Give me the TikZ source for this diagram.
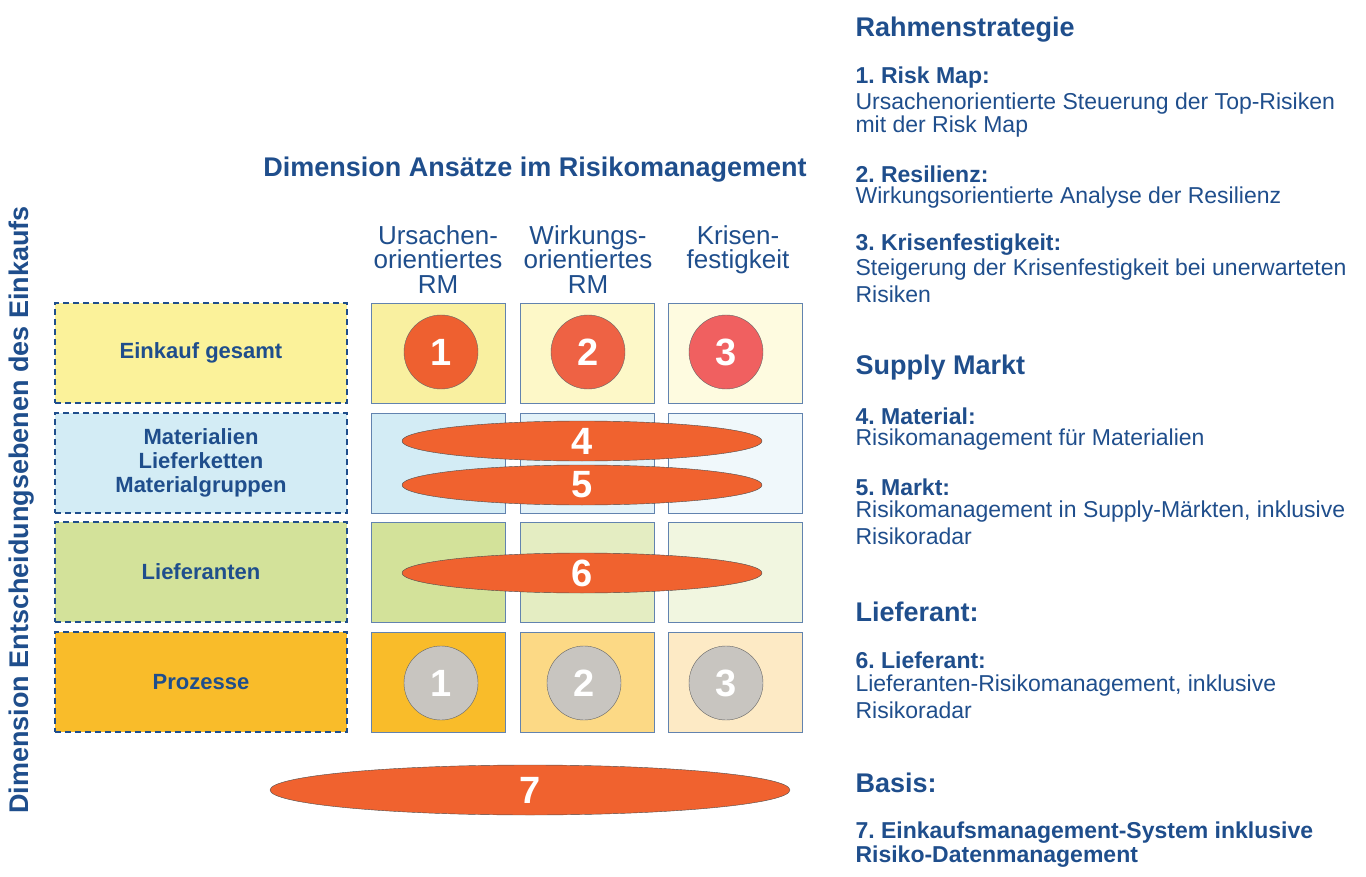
\documentclass[tikz,border=0pt]{standalone}
\usepackage{fontspec}
\setmainfont{Liberation Sans}
\usetikzlibrary{positioning}
\definecolor{dblue}{HTML}{1F4E8C}
\definecolor{hot}{HTML}{F0622F}
\begin{document}
\begin{tikzpicture}[x=1pt,y=-1pt]

\tikzset{level/.style = {draw=dblue, dash pattern=on 6pt off 4pt, line width=1.4pt, minimum width=292pt, minimum height=100pt, text=dblue, font=\fontsize{22}{24}\selectfont\bfseries, align=center}}
\tikzset{cell/.style = {draw=dblue!70, minimum width=134pt, minimum height=100pt}}
\tikzset{num/.style = {shape=circle, draw=black!60, minimum size=74pt, text=white, font=\fontsize{38}{38}\selectfont\bfseries}}
\tikzset{big/.style = {text=white, font=\fontsize{38}{38}\selectfont\bfseries}}
\tikzset{head/.style = {anchor=west, text=dblue, font=\fontsize{27}{29}\selectfont\bfseries}}
\tikzset{item/.style = {anchor=west, text=dblue, font=\fontsize{23}{25}\selectfont\bfseries}}
\tikzset{body/.style = {anchor=west, text=dblue, font=\fontsize{23}{25}\selectfont}}
\tikzset{col/.style = {anchor=north, text=dblue, align=center, font=\fontsize{26}{24.5}\selectfont}}

\useasboundingbox (0,0) rectangle (1366,877);

%levels
\node[level, fill={rgb,255:red,251;green,242;blue,154}] (lev1) at (201,353) {Einkauf gesamt};
\node[level, fill={rgb,255:red,211;green,236;blue,245}] (lev2) at (201,463) {Materialien\\Lieferketten\\Materialgruppen};
\node[level, fill={rgb,255:red,211;green,226;blue,154}] (lev3) at (201,572) {Lieferanten};
\node[level, fill={rgb,255:red,249;green,188;blue,42}] (lev4) at (201,682) {Prozesse};

%cells
\node[cell, fill={rgb,255:red,249;green,240;blue,160}] (c11) at (438,353) {};
\node[cell, fill={rgb,255:red,253;green,248;blue,200}] (c12) at (587,353) {};
\node[cell, fill={rgb,255:red,254;green,251;blue,224}] (c13) at (735,353) {};
\node[cell, fill={rgb,255:red,211;green,236;blue,245}] (c21) at (438,463) {};
\node[cell, fill={rgb,255:red,227;green,242;blue,248}] (c22) at (587,463) {};
\node[cell, fill={rgb,255:red,240;green,248;blue,251}] (c23) at (735,463) {};
\node[cell, fill={rgb,255:red,211;green,226;blue,154}] (c31) at (438,572) {};
\node[cell, fill={rgb,255:red,228;green,237;blue,194}] (c32) at (587,572) {};
\node[cell, fill={rgb,255:red,241;green,246;blue,224}] (c33) at (735,572) {};
\node[cell, fill={rgb,255:red,249;green,188;blue,42}] (c41) at (438,682) {};
\node[cell, fill={rgb,255:red,252;green,217;blue,133}] (c42) at (587,682) {};
\node[cell, fill={rgb,255:red,253;green,234;blue,197}] (c43) at (735,682) {};

%circles
\node[num, fill={rgb,255:red,238;green,96;blue,48}] (n1) at (441,352) {1};
\node[num, fill={rgb,255:red,238;green,98;blue,68}] (n2) at (588,352) {2};
\node[num, fill={rgb,255:red,240;green,96;blue,96}] (n3) at (726,352) {3};
\node[num, fill={rgb,255:red,200;green,197;blue,192}] (p1) at (441,683) {1};
\node[num, fill={rgb,255:red,200;green,197;blue,192}] (p2) at (584,683) {2};
\node[num, fill={rgb,255:red,200;green,197;blue,192}] (p3) at (726,683) {3};

%ovals
\draw[draw=black!70, fill=hot] (582,441) ellipse (180 and 20);
\node[big] (o4) at (582,441) {4};
\draw[draw=black!70, fill=hot] (582,485) ellipse (180 and 20);
\node[big] (o5) at (582,485) {5};
\draw[draw=black!70, fill=hot] (582,573) ellipse (180 and 20);
\node[big] (o6) at (582,573) {6};
\draw[draw=black!70, fill=hot] (530,790) ellipse (260 and 25);
\node[big] (o7) at (530,790) {7};

%axes
\node[text=dblue, font=\fontsize{27}{29}\selectfont\bfseries] (dimx) at (535,170) {Dimension Ansätze im Risikomanagement};
\node[text=dblue, rotate=90, font=\fontsize{27}{29}\selectfont\bfseries] (dimy) at (22,510) {Dimension Entscheidungsebenen des Einkaufs};
\node[col] (h1) at (438,222) {Ursachen-\\orientiertes\\RM};
\node[col] (h2) at (588,222) {Wirkungs-\\orientiertes\\RM};
\node[col] (h3) at (738,222) {Krisen-\\festigkeit};

%legend
\node[head] (t1) at (852,30) {Rahmenstrategie};
\node[item] at (852,78) {1.~Risk Map:};
\node[body] at (852,104) {Ursachenorientierte Steuerung der Top-Risiken};
\node[body] at (852,127) {mit der Risk Map};
\node[item] at (852,174) {2.~Resilienz:};
\node[body] at (852,198) {Wirkungsorientierte Analyse der Resilienz};
\node[item] at (852,245) {3.~Krisenfestigkeit:};
\node[body] at (852,270) {Steigerung der Krisenfestigkeit bei unerwarteten};
\node[body] at (852,294) {Risiken};
\node[head] (t2) at (852,368) {Supply Markt};
\node[item] at (852,416) {4.~Material:};
\node[body] at (852,440) {Risikomanagement für Materialien};
\node[item] at (852,487) {5.~Markt:};
\node[body] at (852,512) {Risikomanagement in Supply-Märkten, inklusive};
\node[body] at (852,536) {Risikoradar};
\node[head] (t3) at (852,612) {Lieferant:};
\node[item] at (852,660) {6.~Lieferant:};
\node[body] at (852,686) {Lieferanten-Risikomanagement, inklusive};
\node[body] at (852,710) {Risikoradar};
\node[head] (t4) at (852,783) {Basis:};
\node[item] at (852,833) {7.~Einkaufsmanagement-System inklusive};
\node[item] at (852,857) {Risiko-Datenmanagement};

\end{tikzpicture}
\end{document}
